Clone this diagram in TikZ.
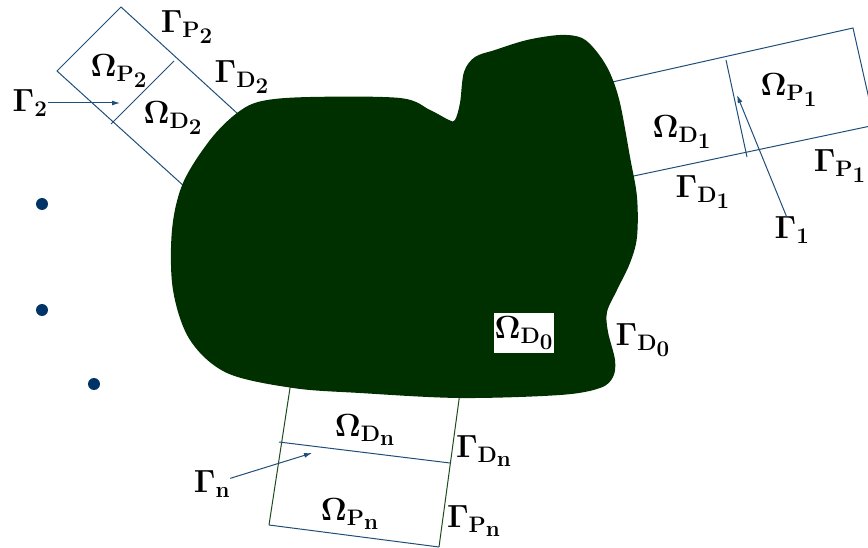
\documentclass[tikz,border=0pt]{standalone}
\usepackage{fix-cm}
\usepackage{amsmath}
\usepackage{tikz}
\usetikzlibrary{arrows.meta,positioning}
\definecolor{edgeblue}{RGB}{31,78,121}
\definecolor{dotblue}{RGB}{0,51,102}
\definecolor{domgreen}{RGB}{0,48,0}
\definecolor{sidegreen}{RGB}{30,75,30}
\newcommand{\subD}[1]{\mathrm{D}_{\scriptstyle\mathrm{#1}}}
\newcommand{\subP}[1]{\mathrm{P}_{\scriptstyle\mathrm{#1}}}

\begin{document}
\begin{tikzpicture}[x=1pt, y=-1pt,
  every node/.style={font=\fontsize{32}{34}\selectfont\boldmath, inner sep=0pt},
  edge/.style={edgeblue, line width=1pt},
  sideedge/.style={sidegreen, line width=1pt},
  pointer/.style={edgeblue, line width=1pt, -{Latex[length=8pt,width=5pt]}}]
  \clip (0,0) rectangle (868,548);

  %% Box 2 (upper left)
  \draw[edge] (250,125) -- (121,7) -- (57,71) -- (196,197);
  \draw[edge] (174,61) -- (111,124);
  %% Box 1 (right)
  \draw[edge] (590,87) -- (853,28) -- (876,130);
  \draw[edge] (610,181) -- (880,124);
  \draw[edge] (726,60) -- (747,157);
  %% Box n (bottom)
  \draw[sideedge] (292,375) -- (269,525);
  \draw[sideedge] (461,385) -- (439,547);
  \draw[edge] (269,525) -- (439,547);
  \draw[edge] (279,442) -- (450,463);

  %% Domain D0
  \fill[domgreen] plot[smooth cycle, tension=0.55] coordinates {
    (237,113) (262,101) (310,97) (400,98) (430,110) (449,120) (455,120)
    (460,103) (464,72) (475,57) (495,50) (527,40) (560,35) (582,38)
    (597,52) (610,73) (620,103) (630,157) (637,197) (637,237) (630,263)
    (617,290) (607,312) (608,332) (615,360) (613,377) (600,388) (560,395)
    (460,398) (360,393) (293,388) (227,373) (190,340) (173,290) (172,230)
    (183,183) (210,140)};

  %% Labels
  \node (GP2) at (187,27) {$\Gamma_{\subP{2}}$};
  \node (OP2) at (119,71) {$\Omega_{\subP{2}}$};
  \node (GD2) at (242,77) {$\Gamma_{\subD{2}}$};
  \node (OD2) at (173,118) {$\Omega_{\subD{2}}$};
  \node (G2) at (30,103) {$\Gamma_{\scriptstyle 2}$};
  \node (OD1) at (682,132) {$\Omega_{\subD{1}}$};
  \node (OP1) at (789,90) {$\Omega_{\subP{1}}$};
  \node (GP1) at (840,166) {$\Gamma_{\subP{1}}$};
  \node (GD1) at (703,192) {$\Gamma_{\subD{1}}$};
  \node (G1) at (792,230) {$\Gamma_{\scriptstyle 1}$};
  \node (ODn) at (365,430) {$\Omega_{\subD{n}}$};
  \node (OPn) at (350,514) {$\Omega_{\subP{n}}$};
  \node (GDn) at (484,451) {$\Gamma_{\subD{n}}$};
  \node (GPn) at (474,521) {$\Gamma_{\subP{n}}$};
  \node (Gn) at (212,484) {$\Gamma_{\scriptstyle\mathrm{n}}$};
  \node[fill=white, inner xsep=1pt, inner ysep=3pt] (OD0) at (524,333) {$\Omega_{\subD{0}}$};
  \node (GD0) at (643,340) {$\Gamma_{\subD{0}}$};

  %% Interface pointers
  \coordinate (G2tip) at (120,103);
  \coordinate (G1tip) at (737,95);
  \coordinate (Gntip) at (312,453);
  \draw[pointer] (G2) -- (G2tip);
  \draw[pointer] (G1) -- (G1tip);
  \draw[pointer] (Gn) -- (Gntip);

  %% Further subdomains
  \foreach \px/\py in {42/204, 42/310, 94/384} {
    \fill[dotblue] (\px,\py) circle (6);
  }
\end{tikzpicture}
\end{document}
